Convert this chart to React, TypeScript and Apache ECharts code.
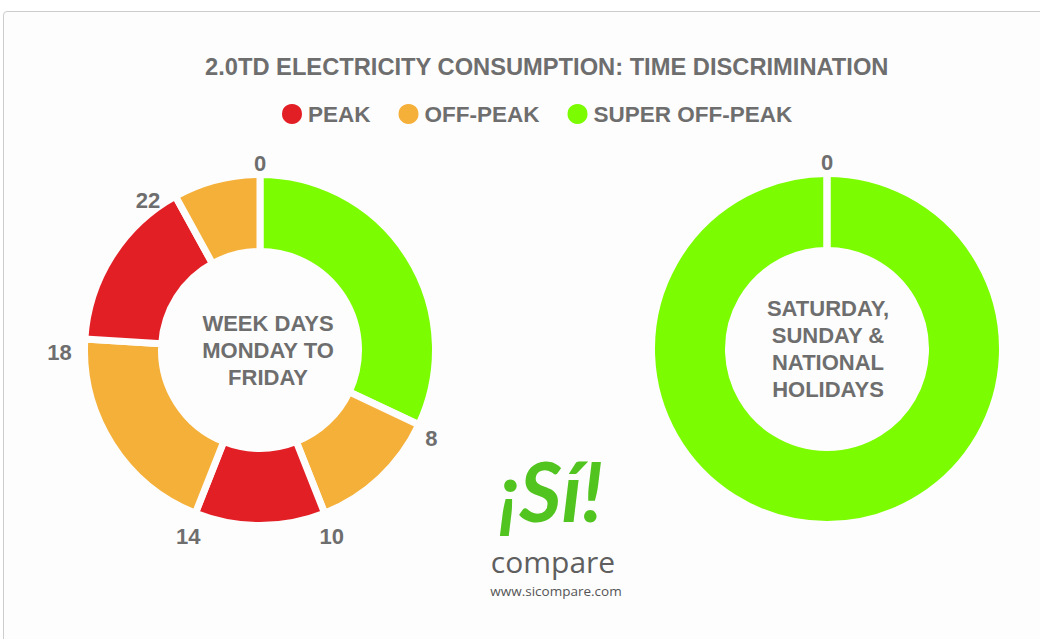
import React, { useEffect, useRef } from 'react';
import * as echarts from 'echarts';

// ---------- data ----------
const chartTitle = '2.0TD ELECTRICITY CONSUMPTION: TIME DISCRIMINATION';
const tariffNames = ['PEAK', 'OFF-PEAK', 'SUPER OFF-PEAK'];
const tariffColors = ['#e31f26', '#f5b03a', '#7cfc00'];

// week days (Monday to Friday): segments clockwise from the top
const weekdayTypes = ['SUPER OFF-PEAK', 'OFF-PEAK', 'PEAK', 'OFF-PEAK', 'PEAK', 'OFF-PEAK'];
const weekdayValues = [8, 3, 3, 5, 4, 2];
const weekdayHours = ['0', '8', '10', '14', '18', '22'];
const weekdayCaption = 'WEEK DAYS\nMONDAY TO\nFRIDAY';

// weekend & holidays
const weekendTypes = ['SUPER OFF-PEAK', 'PEAK', 'OFF-PEAK'];
const weekendValues = [24, 0, 0];
const weekendHours = ['0'];
const weekendCaption = 'SATURDAY,\nSUNDAY &\nNATIONAL\nHOLIDAYS';

const logoMark = '¡Sí!';
const logoWord = 'compare';
const logoUrl = 'www.sicompare.com';

// ---------- styles ----------
const GRAY = '#6e6e6e';
const FONT = '"Liberation Sans", Arial, Helvetica, sans-serif';
const GAP_COLOR = '#fdfdfd';
// small nudges for a few boundary labels [dx, dy]
const labelNudge: Record<string, [number, number]> = {
  '0': [0, 3],
  '8': [-5, 0],
  '18': [-6, 10],
  '22': [-18, 16],
};

function colorOf(type: string) {
  return tariffColors[tariffNames.indexOf(type)];
}

function ringData(types: string[], values: number[]) {
  return values.map((v, i) => ({
    name: types[i],
    value: v,
    itemStyle: { color: colorOf(types[i]) },
  }));
}

const EPS = 0.02;
function boundaryData(values: number[], hours: string[]) {
  const out: any[] = [];
  values.forEach((v, i) => {
    if (i < hours.length) {
      out.push({ name: hours[i], value: EPS, label: { show: true } });
      out.push({ name: '', value: Math.max(v - EPS, 0), label: { show: false } });
    } else {
      out.push({ name: '', value: v, label: { show: false } });
    }
  });
  return out;
}

function sum(a: number[]) {
  return a.reduce((s, x) => s + x, 0);
}

function ringSeries(center: [number, number], types: string[], values: number[]) {
  return {
    type: 'pie',
    center,
    radius: [98.5, 175.5],
    startAngle: 90,
    clockwise: true,
    silent: true,
    label: { show: false },
    labelLine: { show: false },
    itemStyle: { borderColor: GAP_COLOR, borderWidth: 7 },
    emphasis: { disabled: true },
    data: ringData(types, values),
  };
}

function boundarySeries(center: [number, number], values: number[], hours: string[]) {
  return {
    type: 'pie',
    center,
    radius: [182, 202],
    startAngle: 90 + (EPS / 2 / sum(values)) * 360,
    clockwise: true,
    silent: true,
    legendHoverLink: false,
    itemStyle: { color: 'rgba(0,0,0,0)' },
    label: {
      position: 'inside',
      color: GRAY,
      fontSize: 22,
      fontWeight: 'bold',
      fontFamily: FONT,
      overflow: 'none',
    },
    labelLayout: (params: any) => {
      const n = labelNudge[params.text];
      return n ? { dx: n[0], dy: n[1] } : {};
    },
    labelLine: { show: false },
    emphasis: { disabled: true },
    data: boundaryData(values, hours),
  };
}

export default function App() {
  const ref = useRef<HTMLDivElement>(null);

  useEffect(() => {
    if (!ref.current) return;
    const chart = echarts.init(ref.current, undefined, { renderer: 'svg' });
    const leftC: [number, number] = [260, 350];
    const rightC: [number, number] = [827, 349];

    chart.setOption({
      animation: false,
      title: {
        text: chartTitle,
        left: 200,
        top: 50,
        textStyle: { fontFamily: FONT, fontWeight: 'bold', fontSize: 23.7, color: GRAY },
      },
      legend: {
        data: tariffNames,
        left: 275,
        top: 97,
        icon: 'circle',
        itemWidth: 22,
        itemHeight: 22,
        itemGap: 26,
        selectedMode: false,
        textStyle: { fontFamily: FONT, fontWeight: 'bold', fontSize: 22.5, color: GRAY },
      },
      series: [
        ringSeries(leftC, weekdayTypes, weekdayValues),
        ringSeries(rightC, weekendTypes, weekendValues),
        boundarySeries([leftC[0], leftC[1] + 5], weekdayValues, weekdayHours),
        boundarySeries([rightC[0], rightC[1] + 5], weekendValues, weekendHours),
      ],
      graphic: [
        {
          type: 'text',
          x: 268,
          y: 350,
          silent: true,
          style: {
            text: weekdayCaption,
            fontFamily: FONT,
            fontWeight: 'bold',
            fontSize: 22,
            lineHeight: 27,
            fill: GRAY,
            align: 'center',
            verticalAlign: 'middle',
          },
        },
        {
          type: 'text',
          x: 828,
          y: 349,
          silent: true,
          style: {
            text: weekendCaption,
            fontFamily: FONT,
            fontWeight: 'bold',
            fontSize: 22,
            lineHeight: 26.7,
            fill: GRAY,
            align: 'center',
            verticalAlign: 'middle',
          },
        },
        {
          type: 'text',
          x: 551,
          y: 490,
          silent: true,
          style: {
            text: logoMark,
            fontFamily: 'Lato, "Open Sans", sans-serif',
            fontWeight: 'bold',
            fontStyle: 'italic',
            fontSize: 82,
            lineHeight: 62,
            fill: '#52c41f',
            align: 'center',
            verticalAlign: 'middle',
          },
        },
        {
          type: 'text',
          x: 553,
          y: 561,
          silent: true,
          style: {
            text: logoWord,
            fontFamily: '"Open Sans", sans-serif',
            fontSize: 30,
            lineHeight: 30,
            fill: '#5f5f5f',
            align: 'center',
            verticalAlign: 'middle',
          },
        },
        {
          type: 'text',
          x: 556,
          y: 591,
          silent: true,
          style: {
            text: logoUrl,
            fontFamily: '"Open Sans", sans-serif',
            fontSize: 13.5,
            lineHeight: 14,
            fill: '#555555',
            align: 'center',
            verticalAlign: 'middle',
          },
        },
      ],
    });

    return () => chart.dispose();
  }, []);

  return (
    <div
      style={{
        position: 'fixed',
        left: 0,
        top: 0,
        width: 1040,
        height: 639,
        overflow: 'hidden',
        background: '#ffffff',
      }}
    >
      <div
        style={{
          position: 'absolute',
          left: 3,
          top: 11,
          width: 1100,
          height: 700,
          border: '1px solid #cdcdcd',
          borderRadius: 4,
          background: '#fdfdfd',
        }}
      />
      <div ref={ref} style={{ position: 'absolute', left: 0, top: 0, width: 1040, height: 639 }} />
    </div>
  );
}
